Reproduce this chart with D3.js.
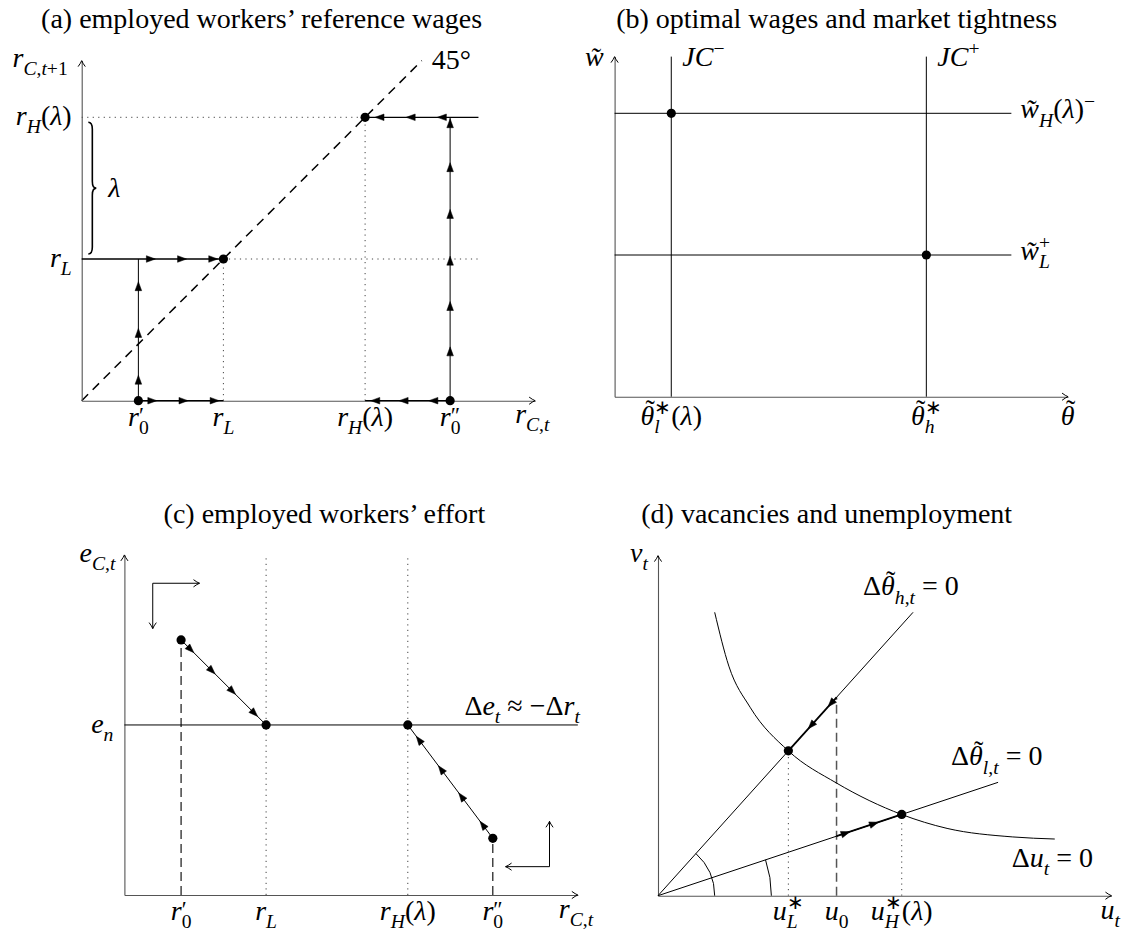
<!DOCTYPE html>
<html>
<head>
<meta charset="utf-8">
<script src="https://cdn.jsdelivr.net/npm/d3@7"></script>
<style>
  body { margin: 0; background: #fff; }
  text { font-family: "Liberation Serif", "Times New Roman", serif; fill: #000; white-space: pre; }
</style>
</head>
<body>
<svg id="fig" width="1125" height="938"></svg>
<script>
// ---- data (all in model units: one unit = one grid step of the diagram) ----
// (a) employed workers' reference wages
var aLevels = [10, 20];                  // r_L, r_H(lambda)
var aStarts = [4, 26];                   // r0', r0''
var aTicksX = [{v: 4, t: "r^{′}_0"}, {v: 10, t: "r_L"}, {v: 20, t: "r_H(λ)"}, {v: 26, t: "r^{″}_0"}];
var aTicksY = [{v: 20, t: "r_H(λ)"}, {v: 10, t: "r_L"}];
var aFlowUpper = [5.2, 7.4, 9.6];        // arrows on r_L line (rightwards)
var aFlowAxisLow = [5.3, 7.5, 9.7];      // arrows on x-axis towards r_L
var aRiseLow = [1.8, 5.1, 8.4];          // arrows up from r0'
var aFlowTop = [20.7, 22.9, 25.1];       // arrows on r_H line (leftwards)
var aFlowAxisHigh = [20.4, 22.4, 24.5];  // arrows on x-axis towards r_H
var aRiseHigh = [3.8, 7.0, 10.2, 13.5, 16.8, 19.9];
var aRightEnd = 28;

// (b) optimal wages and market tightness
var bTheta = [4, 22];                    // theta_l*(lambda), theta_h*
var bThetaLabels = ["θ̃^∗_l(λ)", "θ̃^∗_h"];
var bWage = [20, 10];                    // w_H(lambda)-, w_L+
var bWageLabels = ["w̃_H(λ)^{−}", "w̃^+_L"];
var bJCLabels = ["JC^{−}", "JC^+"];
var bEquil = [[4, 20], [22, 10]];
var bRightEnd = 28;

// (c) employed workers' effort
var cEn = 12;
var cStarts = [[4, 18], [26, 4]];        // (r0', e), (r0'', e)
var cRefs = [10, 20];                    // r_L, r_H(lambda)
var cTicksX = [{v: 4, t: "r^{′}_0"}, {v: 10, t: "r_L"}, {v: 20, t: "r_H(λ)"}, {v: 26, t: "r^{″}_0"}];
var cArrowT = [0.15, 0.4, 0.64, 0.9];    // arrow positions along each path
var cCorners = [{c: [2, 22], ends: [[2, 18.8], [5.3, 22]]}, {c: [30, 2], ends: [[26.9, 2], [30, 5.2]]}];

// (d) vacancies and unemployment
var dThetaH = [18, 20];                  // end of the steeper ray
var dThetaL = [24, 8];                   // end of the flatter ray
var dCurve = [[4, 20], [5, 16.2], [6.5, 13.3], [9.2, 10.22], [12.6, 7.95], [17.2, 5.73], [20.4, 4.75], [25, 4.15], [28, 4.0]];
var dU = [{v: 9.2, t: "u^∗_L"}, {v: 12.6, t: "u_0"}, {v: 17.2, t: "u^∗_H(λ)"}];
var dArrowsH = [12.0, 10.6];
var dArrowsL = [13.55, 15.55];
var dArcs = [4, 8];

// ---- layout ----
var U = 14.17, FS = 28;
function panel(ox, oy) {
  return {
    x: d3.scaleLinear().domain([0, 32]).range([ox, ox + 32 * U]),
    y: d3.scaleLinear().domain([0, 24]).range([oy, oy - 24 * U])
  };
}
var A = panel(81.7, 400.7), B = panel(614.6, 396.7), C = panel(124.4, 895), D = panel(658, 895.7);
var svg = d3.select('#fig');

// tiny TeX-like typesetter: _ and ^ with {groups}, italic letters, tilde over theta
function tex(txt, s, size) {
  var toks = [], i = 0, base = '';
  function flush() { if (base) { toks.push({t: base, p: 'b'}); base = ''; } }
  while (i < s.length) {
    var c = s[i];
    if (c === '_' || c === '^') {
      flush();
      var g;
      if (s[i + 1] === '{') { var j = s.indexOf('}', i + 2); g = s.slice(i + 2, j); i = j + 1; }
      else { g = s[i + 1]; i += 2; }
      toks.push({t: g, p: c === '_' ? 'sub' : 'sup'});
    } else { base += c; i++; }
  }
  flush();
  var cur = 0, pend = 0, prev = null;
  function put(str, fs, it, shift) {
    var ts = txt.append('tspan').text(str).attr('font-size', fs).attr('font-style', it ? 'italic' : 'normal');
    if (shift !== cur) { ts.attr('dy', shift - cur); cur = shift; }
    if (pend) { ts.attr('dx', pend); pend = 0; }
    return ts;
  }
  function len(ts) { return ts.node().getComputedTextLength(); }
  toks.forEach(function(tk) {
    var isScript = tk.p !== 'b';
    var prime = /^[′″]+$/.test(tk.t);
    var fs = isScript ? size * (prime ? 0.8 : 0.7) : size;
    var shift = tk.p === 'sub' ? size * 0.3 : tk.p === 'sup' ? -size * (prime ? 0.1 : 0.38) : 0;
    var stack = isScript && prev && prev.p !== tk.p;
    if (stack) pend -= prev.w;
    var w = 0, m, re = /θ\u0303|(?:[A-Za-zλθ]\u0303?)+|[^A-Za-zλθ]+/g;
    while ((m = re.exec(tk.t))) {
      if (m[0] === 'θ\u0303') {
        var lt = put('θ', fs, true, shift), lw = len(lt);
        var tt = put('˜', fs, false, shift - fs * 0.2), tw = len(tt);
        var sk = fs * 0.1;
        tt.attr('dx', -lw / 2 - tw / 2 + sk);
        pend = lw / 2 - tw / 2 - sk;
        w += lw;
      } else {
        w += len(put(m[0], fs, /^[A-Za-zλθ]/.test(m[0]), shift));
      }
    }
    if (stack) { if (prev.w > w) pend += prev.w - w; prev = null; }
    else prev = isScript ? {p: tk.p, w: w} : null;
  });
  return txt;
}
function label(g, x, y, s, anchor) {
  return tex(g.append('text').attr('x', x).attr('y', y).attr('text-anchor', anchor || 'start').attr('font-size', FS), s, FS);
}

function arrow(g, px, py, ang, filled) {
  g.append('path')
    .attr('d', filled ? 'M0,0L-9,-3.3L-9,3.3Z' : 'M-6,-3.6Q-2.4,-0.9 0,0Q-2.4,0.9 -6,3.6')
    .attr('transform', 'translate(' + px + ',' + py + ') rotate(' + ang + ')')
    .attr('fill', filled ? '#000' : 'none')
    .attr('stroke', '#000')
    .attr('stroke-width', filled ? 0.5 : 1);
}
function seg(g, P, pts, w, dash, col) {
  var line = d3.line().x(function(d) { return P.x(d[0]); }).y(function(d) { return P.y(d[1]); });
  return g.append('path').attr('d', line(pts)).attr('fill', 'none')
    .attr('stroke', col || '#000').attr('stroke-width', w || 1)
    .attr('stroke-dasharray', dash || null);
}
function dots(g, P, pts) {
  g.selectAll(null).data(pts).enter().append('circle')
    .attr('cx', function(d) { return P.x(d[0]); })
    .attr('cy', function(d) { return P.y(d[1]); })
    .attr('r', 4.6).attr('fill', '#000');
}
function angle(P, a, b) {
  return Math.atan2(P.y(b[1]) - P.y(a[1]), P.x(b[0]) - P.x(a[0])) * 180 / Math.PI;
}
function axes(g, P) {
  g.append('g').attr('transform', 'translate(0,' + P.y(0) + ')')
    .call(d3.axisBottom(P.x).tickValues([]).tickSizeOuter(0))
    .select('.domain').attr('stroke', '#555').attr('stroke-width', 1.1);
  g.append('g').attr('transform', 'translate(' + P.x(0) + ',0)')
    .call(d3.axisLeft(P.y).tickValues([]).tickSizeOuter(0))
    .select('.domain').attr('stroke', '#555').attr('stroke-width', 1.1);
  arrow(g, P.x(32), P.y(0), 0, false);
  arrow(g, P.x(0), P.y(24), -90, false);
}
var DOT = '1.2 4.3';

// titles
var titles = [
  {t: "(a) employed workers’ reference wages", x: 261.6, y: 28},
  {t: "(b) optimal wages and market tightness", x: 836.6, y: 28},
  {t: "(c) employed workers’ effort", x: 324.4, y: 523},
  {t: "(d) vacancies and unemployment", x: 826.7, y: 523}
];
svg.selectAll('.title').data(titles).enter().append('text')
  .attr('class', 'title').attr('x', function(d) { return d.x; }).attr('y', function(d) { return d.y; })
  .attr('text-anchor', 'middle').attr('font-size', FS).text(function(d) { return d.t; });

// ---------------- (a) ----------------
var ga = svg.append('g');
var rL = aLevels[0], rH = aLevels[1];
seg(ga, A, [[0, rH], [rH, rH]], 1, DOT, '#444');
seg(ga, A, [[rL, rL], [aRightEnd, rL]], 1, DOT, '#444');
seg(ga, A, [[rL, 0], [rL, rL]], 1, DOT, '#444');
seg(ga, A, [[rH, 0], [rH, rH]], 1, DOT, '#444');
seg(ga, A, [[0, 0], [24, 24]], 1.5, '9 6.5');
axes(ga, A);
seg(ga, A, [[0, rL], [rL, rL]], 1.3);
seg(ga, A, [[aStarts[0], 0], [aStarts[0], rL]], 1);
seg(ga, A, [[aRightEnd, rH], [rH, rH]], 1.3);
seg(ga, A, [[aStarts[1], 0], [aStarts[1], rH]], 1);
seg(ga, A, [[aStarts[0], 0], [rL, 0]], 1.3);
seg(ga, A, [[rH, 0], [aStarts[1], 0]], 1.3);
aFlowUpper.forEach(function(v) { arrow(ga, A.x(v), A.y(rL), 0, true); });
aFlowAxisLow.forEach(function(v) { arrow(ga, A.x(v), A.y(0), 0, true); });
aRiseLow.forEach(function(v) { arrow(ga, A.x(aStarts[0]), A.y(v), -90, true); });
aFlowTop.forEach(function(v) { arrow(ga, A.x(v), A.y(rH), 180, true); });
aFlowAxisHigh.forEach(function(v) { arrow(ga, A.x(v), A.y(0), 180, true); });
aRiseHigh.forEach(function(v) { arrow(ga, A.x(aStarts[1]), A.y(v), -90, true); });
dots(ga, A, [[aStarts[0], 0], [rL, rL], [rH, rH], [aStarts[1], 0]]);
// brace for lambda
(function() {
  var x0 = A.x(0.75), t = A.y(rH) + 5, b = A.y(rL) - 5, m = (t + b) / 2;
  ga.append('path').attr('fill', 'none').attr('stroke', '#000').attr('stroke-width', 1.6)
    .attr('d', 'M' + (x0 - 4) + ',' + t + 'Q' + x0 + ',' + t + ' ' + x0 + ',' + (t + 7) +
      'L' + x0 + ',' + (m - 7) + 'Q' + x0 + ',' + m + ' ' + (x0 + 4) + ',' + m +
      'Q' + x0 + ',' + m + ' ' + x0 + ',' + (m + 7) +
      'L' + x0 + ',' + (b - 7) + 'Q' + x0 + ',' + b + ' ' + (x0 - 4) + ',' + b);
  label(ga, x0 + 16, m + 9, "λ");
})();
aTicksX.forEach(function(d) { label(ga, A.x(d.v), A.y(0) + 25, d.t, 'middle'); });
aTicksY.forEach(function(d) { label(ga, A.x(0) - 10, A.y(d.v) + 7.5, d.t, 'end'); });
label(ga, A.x(0) - 14, A.y(24) + 6, "r_{C,t+1}", 'end');
label(ga, A.x(32) - 20, A.y(0) + 22, "r_{C,t}");
label(ga, A.x(24) + 10, A.y(24) + 8, "45°");

// ---------------- (b) ----------------
var gb = svg.append('g');
axes(gb, B);
bWage.forEach(function(w, i) {
  seg(gb, B, [[0, w], [bRightEnd, w]], 1);
  label(gb, B.x(bRightEnd) + 9, B.y(w) + 5, bWageLabels[i]);
});
bTheta.forEach(function(v, i) {
  seg(gb, B, [[v, 0], [v, 24]], 1);
  label(gb, B.x(v) + 11, B.y(24) + 9, bJCLabels[i]);
  label(gb, B.x(v), B.y(0) + 28, bThetaLabels[i], 'middle');
});
dots(gb, B, bEquil);
label(gb, B.x(0) - 11, B.y(24) + 9, "w̃", 'end');
label(gb, B.x(32), B.y(0) + 28, "θ̃", 'middle');

// ---------------- (c) ----------------
var gc = svg.append('g');
cRefs.forEach(function(v) { seg(gc, C, [[v, 0], [v, 24]], 1, DOT, '#444'); });
cStarts.forEach(function(p) { seg(gc, C, [[p[0], 0], p], 1.1, '9 5'); });
axes(gc, C);
seg(gc, C, [[0, cEn], [32, cEn]], 1);
cStarts.forEach(function(p, i) {
  var q = [cRefs[i], cEn];
  seg(gc, C, [p, q], 1);
  var ang = angle(C, p, q);
  cArrowT.forEach(function(t) {
    arrow(gc, C.x(p[0] + (q[0] - p[0]) * t), C.y(p[1] + (q[1] - p[1]) * t), ang, true);
  });
});
dots(gc, C, cStarts.concat([[cRefs[0], cEn], [cRefs[1], cEn]]));
cCorners.forEach(function(k) {
  seg(gc, C, [k.ends[0], k.c, k.ends[1]], 1);
  k.ends.forEach(function(e) { arrow(gc, C.x(e[0]), C.y(e[1]), angle(C, k.c, e), false); });
});
cTicksX.forEach(function(d) { label(gc, C.x(d.v), C.y(0) + 25, d.t, 'middle'); });
label(gc, C.x(0) - 9, C.y(24) + 7, "e_{C,t}", 'end');
label(gc, C.x(0) - 11, C.y(cEn) + 8, "e_n", 'end');
label(gc, C.x(32) - 19, C.y(0) + 23, "r_{C,t}");
label(gc, C.x(32) + 2, C.y(cEn) - 10, "Δe_t ≈ −Δr_t", 'end');

// ---------------- (d) ----------------
var gd = svg.append('g');
var sH = dThetaH[1] / dThetaH[0], sL = dThetaL[1] / dThetaL[0];
var uL = dU[0].v, u0 = dU[1].v, uH = dU[2].v;
seg(gd, D, [[uL, 0], [uL, uL * sH]], 1, DOT, '#444');
seg(gd, D, [[uH, 0], [uH, uH * sL]], 1, DOT, '#444');
seg(gd, D, [[u0, 0], [u0, u0 * sH]], 1.5, '9 5', '#555');
axes(gd, D);
seg(gd, D, [[0, 0], dThetaH], 1);
seg(gd, D, [[0, 0], dThetaL], 1);
seg(gd, D, [[u0, u0 * sH], [uL, uL * sH]], 1.8);
seg(gd, D, [[u0, u0 * sL], [uH, uH * sL]], 1.8);
gd.append('path')
  .attr('d', d3.line().curve(d3.curveMonotoneX).x(function(d) { return D.x(d[0]); }).y(function(d) { return D.y(d[1]); })(dCurve))
  .attr('fill', 'none').attr('stroke', '#000').attr('stroke-width', 1);
dArcs.forEach(function(r, i) {
  var th = Math.atan(i === 0 ? sH : sL), p = d3.path();
  p.arc(D.x(0), D.y(0), r * U, 0, -th, true);
  gd.append('path').attr('d', p.toString()).attr('fill', 'none').attr('stroke', '#000').attr('stroke-width', 1);
});
var angH = angle(D, dThetaH, [0, 0]), angL = angle(D, [0, 0], dThetaL);
dArrowsH.forEach(function(u) { arrow(gd, D.x(u), D.y(u * sH), angH, true); });
dArrowsL.forEach(function(u) { arrow(gd, D.x(u), D.y(u * sL), angL, true); });
dots(gd, D, [[uL, uL * sH], [uH, uH * sL]]);
dU.forEach(function(d) { label(gd, D.x(d.v), D.y(0) + 24, d.t, 'middle'); });
label(gd, D.x(0) - 10, D.y(24) + 6, "v_t", 'end');
label(gd, D.x(32) - 11, D.y(0) + 23, "u_t");
label(gd, D.x(dThetaH[0]) - 50, D.y(dThetaH[1]) - 17, "Δθ̃_{h,t} = 0");
label(gd, D.x(dThetaL[0]) - 47, D.y(dThetaL[1]) - 17, "Δθ̃_{l,t} = 0");
var cEnd = dCurve[dCurve.length - 1];
label(gd, D.x(cEnd[0]) - 43, D.y(cEnd[1]) + 28, "Δu_t = 0");
</script>
</body>
</html>
